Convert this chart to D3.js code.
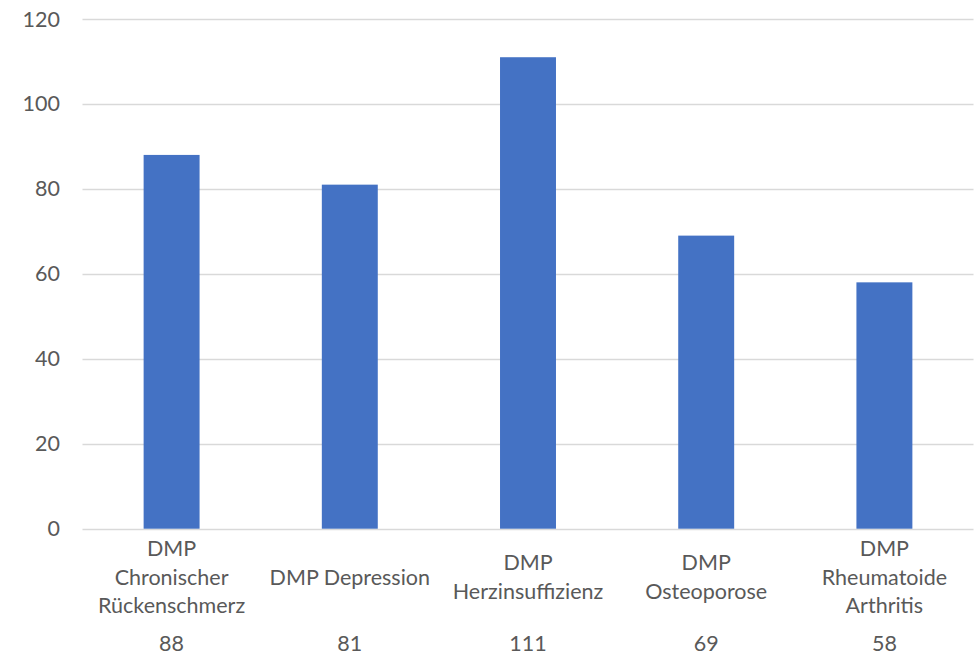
<!DOCTYPE html>
<html><head><meta charset="utf-8">
<script src="https://cdn.jsdelivr.net/npm/d3@7"></script>
<style>body{margin:0;background:#fff}svg{display:block}text{font-family:Lato,"Open Sans",sans-serif;fill:#595959}</style>
</head><body>
<script>
const categories = ["DMP Chronischer Rückenschmerz","DMP Depression","DMP Herzinsuffizienz","DMP Osteoporose","DMP Rheumatoide Arthritis"];
const values = [88,81,111,69,58];
const yTicks = [0,20,40,60,80,100,120];

const W=976,H=657;
const svg=d3.select("body").append("svg").attr("width",W).attr("height",H);
const x=d3.scaleBand().domain(categories).range([82.5,973.5]).paddingInner(0.686).paddingOuter(0.343);
const y=d3.scaleLinear().domain([0,120]).range([528.7,19]);
const fs=21.5;

svg.append("g").selectAll("line").data(yTicks).join("line")
 .attr("x1",82.5).attr("x2",973.5).attr("y1",d=>Math.round(y(d))+0.5).attr("y2",d=>Math.round(y(d))+0.5)
 .attr("stroke","#d9d9d9").attr("stroke-width",1.3);

svg.append("g").selectAll("text").data(yTicks).join("text")
 .attr("x",60).attr("y",d=>y(d)).attr("dy","0.35em").attr("text-anchor","end").attr("font-size",fs).text(d=>d);

svg.append("g").selectAll("rect").data(values).join("rect")
 .attr("x",(d,i)=>x(categories[i])).attr("width",x.bandwidth())
 .attr("y",d=>y(d)).attr("height",d=>y(0)-y(d)).attr("fill","#4472C4");

const lh=28.7;
categories.forEach((c,i)=>{
  const cx=x(c)+x.bandwidth()/2;
  const t=svg.append("text").attr("font-size",fs).attr("text-anchor","middle");
  const words=c.split(" ");
  let lines=[],cur="";
  const meas=svg.append("text").attr("font-size",fs);
  words.forEach(w=>{
    const test=cur?cur+" "+w:w;
    meas.text(test);
    if(meas.node().getComputedTextLength()>164 && cur){lines.push(cur);cur=w;} else cur=test;
  });
  lines.push(cur); meas.remove();
  const y0=577-(lines.length-1)*lh/2;
  lines.forEach((l,j)=>t.append("tspan").attr("x",cx).attr("y",y0+j*lh).attr("dy","0.35em").text(l));
  svg.append("text").attr("font-size",fs).attr("text-anchor","middle").attr("x",cx).attr("y",643).attr("dy","0.35em").text(values[i]);
});
</script>
</body></html>
